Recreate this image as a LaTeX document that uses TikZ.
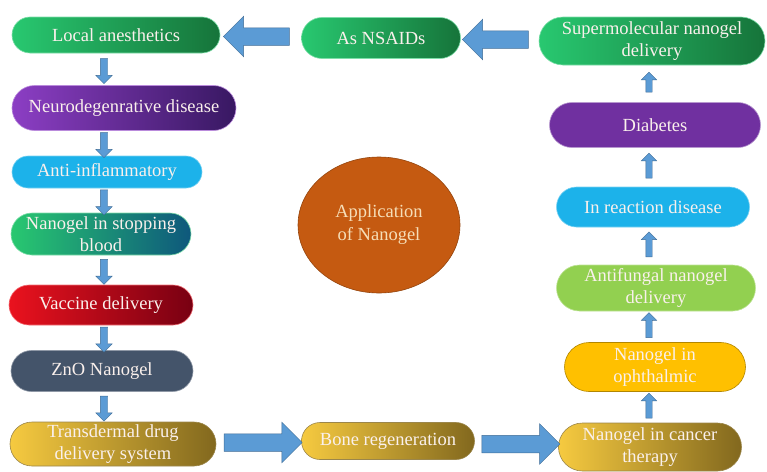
\documentclass[tikz,border=0pt]{standalone}
\usepackage{fontspec}
\setmainfont{Liberation Serif}
\usetikzlibrary{shapes.misc, shapes.geometric, shapes.arrows, positioning, calc}

\definecolor{greenL}{RGB}{40,200,112}
\definecolor{greenD}{RGB}{22,116,58}
\definecolor{purpL}{RGB}{140,62,196}
\definecolor{purpD}{RGB}{56,24,98}
\definecolor{skyB}{RGB}{28,178,234}
\definecolor{tealD}{RGB}{14,88,124}
\definecolor{redL}{RGB}{234,18,30}
\definecolor{redD}{RGB}{120,0,18}
\definecolor{slate}{RGB}{68,84,106}
\definecolor{goldL}{RGB}{246,202,64}
\definecolor{goldD}{RGB}{130,104,30}
\definecolor{amber}{RGB}{255,192,0}
\definecolor{lime}{RGB}{146,208,80}
\definecolor{violet}{RGB}{112,48,160}
\definecolor{rust}{RGB}{197,90,17}
\definecolor{arrowB}{RGB}{91,155,213}
\definecolor{paleT}{RGB}{250,240,236}
\definecolor{peachT}{RGB}{246,222,184}

\begin{document}
\begin{tikzpicture}[x=1pt, y=-1pt,
  pill/.style={rounded rectangle, line width=0.6pt, text=paleT, align=center,
               inner sep=2pt, font=\fontsize{18.5}{22}\selectfont},
  greenpill/.style={pill, left color=greenL, right color=greenD, draw=greenL!60!white},
  purplepill/.style={pill, left color=purpL, right color=purpD, draw=purpL!60!white},
  bluepill/.style={pill, fill=skyB, draw=skyB!60!white},
  tealpill/.style={pill, left color=greenL, right color=tealD, draw=greenL!60!white},
  redpill/.style={pill, left color=redL, right color=redD, draw=redL!60!white},
  slatepill/.style={pill, fill=slate, draw=slate!60!white},
  goldpill/.style={pill, left color=goldL, right color=goldD, draw=goldD!80!white},
  amberpill/.style={pill, fill=amber, draw=amber!70!black},
  limepill/.style={pill, fill=lime, draw=lime!60!white},
  violetpill/.style={pill, fill=violet, draw=violet!50!white},
  bigarrow/.style={single arrow, fill=arrowB, draw=arrowB!70!black, line width=0.5pt,
                   inner sep=0pt, inner ysep=8.5pt, minimum width=40pt,
                   single arrow head extend=11.5pt, minimum height=66pt},
  smallarrow/.style={single arrow, fill=arrowB, draw=arrowB!70!black, line width=0.4pt,
                     inner sep=0pt, inner ysep=3.5pt, minimum width=16pt,
                     single arrow head extend=4.5pt, minimum height=25pt}
]
\useasboundingbox (0,0) rectangle (767,471);

\node[greenpill, minimum width=212pt, minimum height=36pt] (local) at (116,35) {Local anesthetics};
\node[purplepill, minimum width=228pt, minimum height=45pt] (neuro) at (124,108) {Neurodegenrative disease};
\node[bluepill, minimum width=194pt, minimum height=32pt] (antiinf) at (107,172) {Anti-inflammatory};
\node[tealpill, minimum width=184pt, minimum height=42pt] (blood) at (101,234) {Nanogel in stopping\\blood};
\node[redpill, minimum width=188pt, minimum height=40pt] (vaccine) at (101,305) {Vaccine delivery};
\node[slatepill, minimum width=186pt, minimum height=41pt] (zno) at (102,371) {ZnO Nanogel};
\node[goldpill, minimum width=210pt, minimum height=44pt] (transdermal) at (113,444) {Transdermal drug\\delivery system};
\node[goldpill, minimum width=177pt, minimum height=37pt] (bone) at (388,441) {Bone regeneration};
\node[goldpill, minimum width=187pt, minimum height=48pt] (cancer) at (650,447) {Nanogel in cancer\\therapy};
\node[amberpill, minimum width=185pt, minimum height=49pt] (ophthalmic) at (655,367) {Nanogel in\\ophthalmic};
\node[limepill, minimum width=203pt, minimum height=46pt] (antifungal) at (656,288) {Antifungal nanogel\\delivery};
\node[bluepill, minimum width=197pt, minimum height=40pt] (reaction) at (653,207) {In reaction disease};
\node[violetpill, minimum width=215pt, minimum height=45pt] (diabetes) at (655,125) {Diabetes};
\node[greenpill, minimum width=230pt, minimum height=48pt] (supermol) at (652,41) {Supermolecular nanogel\\delivery};
\node[greenpill, minimum width=163pt, minimum height=41pt] (nsaids) at (381,38) {As NSAIDs};

\node[ellipse, minimum width=162pt, minimum height=136pt, fill=rust, draw=rust!75!black,
      line width=0.6pt, text=peachT, align=center, font=\fontsize{18.5}{23}\selectfont]
      (app) at (379,225) {Application\\of Nanogel};

\coordinate (lcol) at (104,0);
\coordinate (rcol) at (649,0);

\node[bigarrow, rotate=180] (nsaids2local) at ($(nsaids.west)!0.5!(local.east)$) {};
\node[bigarrow, rotate=180] (supermol2nsaids) at ($(supermol.west)!0.5!(nsaids.east)$) {};
\node[bigarrow, minimum height=78pt] (transdermal2bone) at ($(transdermal.east)!0.5!(bone.west)$) {};
\node[bigarrow, minimum height=78pt] (bone2cancer) at ($(bone.east)!0.5!(cancer.west)$) {};

\node[smallarrow, rotate=-90] at ($(lcol |- local.south)!0.5!(lcol |- neuro.north)$) {};
\node[smallarrow, rotate=-90] at ($(lcol |- neuro.south)!0.5!(lcol |- antiinf.north)$) {};
\node[smallarrow, rotate=-90] at ($(lcol |- antiinf.south)!0.5!(lcol |- blood.north)$) {};
\node[smallarrow, rotate=-90] at ($(lcol |- blood.south)!0.5!(lcol |- vaccine.north)$) {};
\node[smallarrow, rotate=-90] at ($(lcol |- vaccine.south)!0.5!(lcol |- zno.north)$) {};
\node[smallarrow, rotate=-90] at ($(lcol |- zno.south)!0.5!(lcol |- transdermal.north)$) {};

\node[smallarrow, rotate=90, inner ysep=3pt, minimum width=14pt] at ($(rcol |- cancer.north)!0.5!(rcol |- ophthalmic.south)$) {};
\node[smallarrow, rotate=90, inner ysep=3pt, minimum width=14pt] at ($(rcol |- ophthalmic.north)!0.5!(rcol |- antifungal.south)$) {};
\node[smallarrow, rotate=90, inner ysep=3pt, minimum width=14pt] at ($(rcol |- antifungal.north)!0.5!(rcol |- reaction.south)$) {};
\node[smallarrow, rotate=90, inner ysep=3pt, minimum width=14pt] at ($(rcol |- reaction.north)!0.5!(rcol |- diabetes.south)$) {};
\node[smallarrow, rotate=90, inner ysep=3pt, minimum width=14pt, minimum height=20pt] at ($(rcol |- diabetes.north)!0.5!(rcol |- supermol.south)$) {};
\end{tikzpicture}
\end{document}
